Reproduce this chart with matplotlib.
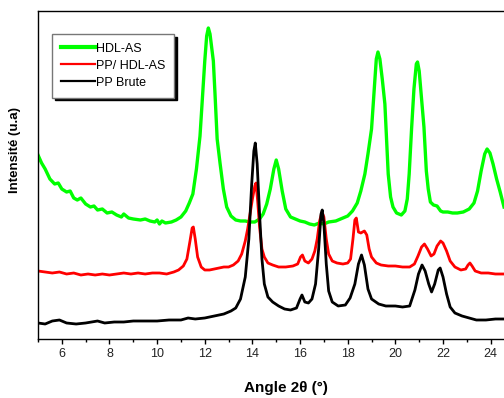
import matplotlib
matplotlib.use("Agg")
import matplotlib.pyplot as plt
from matplotlib.ticker import MultipleLocator

plt.rcParams['font.family'] = ['Liberation Sans', 'DejaVu Sans']

# Diffractograms: 2-theta (degrees) and intensity (arbitrary units, stacked)
hdl_x = [5.0, 5.15, 5.3, 5.5, 5.7, 5.85, 6.0, 6.2, 6.35, 6.5, 6.65, 6.8, 7.0, 7.2,
         7.35, 7.5, 7.7, 7.9, 8.1, 8.3, 8.5, 8.6, 8.8, 9.0, 9.3, 9.5, 9.7, 9.9, 10.0,
         10.1, 10.2, 10.35, 10.6, 10.8, 11.0, 11.2, 11.35, 11.5, 11.65, 11.8, 11.9,
         12.0, 12.08, 12.15, 12.22, 12.3, 12.36, 12.43, 12.52, 12.64, 12.78, 12.92,
         13.1, 13.3, 13.5, 13.7, 13.9, 14.1, 14.3, 14.45, 14.6, 14.75, 14.9, 15.0,
         15.1, 15.25, 15.4, 15.6, 15.8, 16.0, 16.2, 16.4, 16.6, 16.8, 17.0, 17.2,
         17.5, 17.8, 18.0, 18.2, 18.4, 18.55, 18.72, 18.85, 19.0, 19.1, 19.2, 19.27,
         19.35, 19.45, 19.56, 19.7, 19.8, 19.9, 20.05, 20.25, 20.4, 20.5, 20.58,
         20.68, 20.78, 20.88, 20.93, 21.0, 21.1, 21.2, 21.3, 21.38, 21.47, 21.6,
         21.75, 21.9, 22.0, 22.2, 22.4, 22.6, 22.85, 23.1, 23.3, 23.45, 23.6, 23.75,
         23.85, 23.97, 24.1, 24.25, 24.4, 24.56]
hdl_y = [184, 176, 170, 160, 155, 156, 150, 147, 148, 141, 139, 141, 135, 132,
         133, 129, 130, 126, 127, 124, 122, 125, 121, 120, 119, 120, 118, 117, 119,
         115, 118, 116, 117, 119, 122, 128, 136, 145, 170, 203, 240,
         278, 303, 311, 305, 290, 278, 245, 200, 176, 150, 132,
         123, 119, 118, 118, 117, 117, 120, 125, 135, 150, 170, 179,
         170, 148, 130, 122, 120, 118, 117, 115, 114, 116, 115, 117,
         118, 121, 123, 128, 136, 148, 165, 185, 210, 245, 280, 287,
         280, 260, 235, 165, 142, 132, 126, 124, 128, 140, 165,
         210, 250, 275, 277, 268, 240, 212, 168, 150, 137, 134,
         133, 128, 127, 127, 126, 126, 127, 130, 136, 148, 168, 185,
         190, 186, 175, 160, 147, 132]

pp_hdl_x = [5.0, 5.3, 5.6, 5.9, 6.2, 6.5, 6.8, 7.1, 7.4, 7.7, 8.0, 8.3, 8.6, 8.9,
            9.2, 9.5, 9.8, 10.1, 10.4, 10.7, 10.9, 11.1, 11.25, 11.38, 11.47, 11.52,
            11.6, 11.7, 11.85, 12.0, 12.2, 12.4, 12.6, 12.8, 13.0, 13.2, 13.4, 13.55,
            13.7, 13.8, 13.9, 14.0, 14.1, 14.15, 14.22, 14.3, 14.4, 14.5, 14.65,
            14.85, 15.1, 15.4, 15.7, 15.9, 16.02, 16.1, 16.2, 16.35, 16.5, 16.62,
            16.72, 16.82, 16.92, 17.0, 17.1, 17.2, 17.35, 17.55, 17.8, 18.0, 18.12,
            18.22, 18.3, 18.36, 18.45, 18.55, 18.7, 18.8, 18.9, 19.0, 19.2, 19.4,
            19.7, 20.0, 20.3, 20.6, 20.8, 20.95, 21.1, 21.22, 21.35, 21.5, 21.62,
            21.75, 21.9, 22.0, 22.15, 22.3, 22.5, 22.75, 22.95, 23.05, 23.13, 23.22,
            23.35, 23.6, 23.9, 24.2, 24.56]
pp_hdl_y = [68, 67, 66, 67, 65, 66, 64, 65, 64, 65, 64, 65, 66, 65,
            66, 65, 66, 66, 65, 67, 69, 73, 80, 98, 111, 112,
            100, 82, 72, 69, 69, 70, 71, 72, 72, 74, 78, 85,
            98, 110, 125, 140, 153, 156, 138, 112, 90, 82, 76,
            74, 72, 72, 73, 75, 82, 84, 78, 76, 80, 88,
            100, 118, 127, 122, 100, 85, 78, 76, 75, 76, 80,
            100, 119, 121, 107, 106, 108, 104, 90, 82, 76, 74,
            73, 73, 72, 72, 75, 83, 92, 95, 90, 83, 85,
            93, 98, 96, 88, 78, 72, 69, 70, 74, 76, 73,
            68, 66, 66, 65, 65]

pp_x = [5.0, 5.3, 5.6, 5.9, 6.2, 6.6, 7.0, 7.5, 7.8, 8.2, 8.6, 9.0, 9.5, 10.0,
        10.5, 11.0, 11.3, 11.6, 12.0, 12.4, 12.8, 13.1, 13.3, 13.5, 13.7, 13.85,
        13.97, 14.06, 14.12, 14.2, 14.3, 14.4, 14.5, 14.65, 14.85, 15.1, 15.35,
        15.6, 15.85, 16.0, 16.08, 16.2, 16.35, 16.5, 16.65, 16.78, 16.88, 16.93,
        17.0, 17.1, 17.2, 17.35, 17.6, 17.9, 18.1, 18.3, 18.45, 18.58, 18.7, 18.85,
        19.0, 19.3, 19.6, 20.0, 20.3, 20.6, 20.82, 20.97, 21.12, 21.25, 21.4, 21.52,
        21.65, 21.8, 21.88, 22.0, 22.15, 22.3, 22.5, 22.8, 23.1, 23.4, 23.8, 24.2,
        24.56]
pp_y = [16, 15, 18, 19, 16, 15, 16, 18, 16, 17, 17, 18, 18, 18,
        19, 19, 21, 20, 21, 23, 25, 28, 31, 40, 62, 100,
        155, 188, 196, 175, 125, 80, 55, 42, 37, 33, 30,
        29, 31, 40, 44, 37, 36, 40, 55, 90, 125, 129,
        115, 75, 48, 37, 33, 34, 41, 55, 75, 84, 74, 50,
        40, 35, 33, 33, 32, 33, 49, 65, 74, 68, 55, 47,
        55, 69, 71, 62, 45, 32, 26, 23, 21, 19, 19, 20,
        20]

series = [
    ("HDL-AS", hdl_x, hdl_y, "#00ff00", 2.4),
    ("PP/ HDL-AS", pp_hdl_x, pp_hdl_y, "#ff0000", 2.0),
    ("PP Brute", pp_x, pp_y, "#000000", 2.0),
]

W, H = 504, 398
fig = plt.figure(figsize=(W / 100, H / 100), dpi=100)
ax = fig.add_axes([38 / W, 59 / H, (W - 38) / W, 328 / H])

for label, xs, ys, color, lw in series:
    ax.plot(xs, ys, color=color, lw=lw, label=label, solid_joinstyle='round')

ax.set_xlim(5, 24.56)
ax.set_ylim(0, 328)
ax.spines['right'].set_visible(False)
for s in ('left', 'top', 'bottom'):
    ax.spines[s].set_linewidth(1.0)
ax.set_yticks([])
ax.xaxis.set_major_locator(MultipleLocator(2))
ax.xaxis.set_minor_locator(MultipleLocator(1))
ax.tick_params(axis='x', which='major', direction='out', length=3.6, width=1,
               pad=3.0, labelsize=9, labelcolor='#222222')
ax.tick_params(axis='x', which='minor', direction='out', length=2.2, width=1)

fig.text(286 / W, 1 - 388 / H, "Angle 2θ (°)", ha='center', va='center',
         fontsize=11, fontweight='bold')
fig.text(15 / W, 1 - 150 / H, "Intensité (u.a)", ha='center', va='center',
         rotation=90, fontsize=9.5, fontweight='bold')

leg = ax.legend(loc='upper left', bbox_to_anchor=(52 / W, 1 - 34 / H),
                bbox_transform=fig.transFigure, borderaxespad=0,
                fontsize=9, handlelength=2.7, handletextpad=0.1,
                labelspacing=0.4, borderpad=0.7, fancybox=False,
                shadow={'color': 'black', 'alpha': 1})
leg.get_frame().set_edgecolor('#777777')
leg.get_frame().set_linewidth(1.0)
for line in leg.get_lines():
    line.set_linewidth(1.6)
leg.get_lines()[0].set_linewidth(3.0)

fig.savefig("out.png", dpi=100)
